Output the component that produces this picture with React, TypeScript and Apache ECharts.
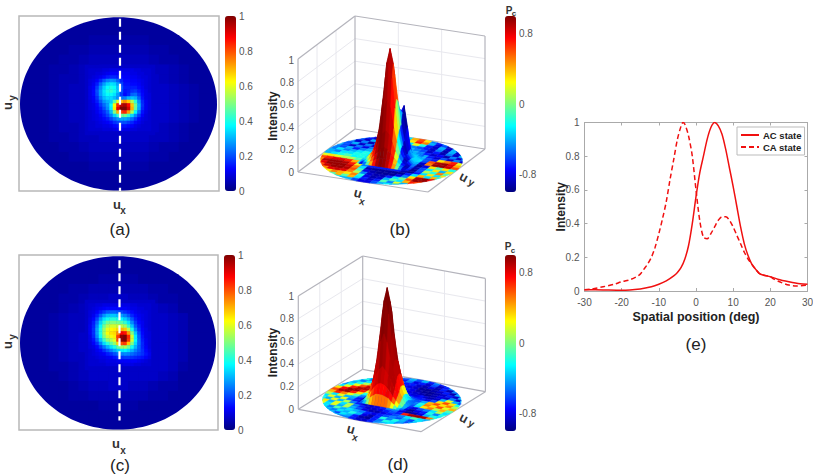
import React, { useEffect, useRef } from "react";
import * as echarts from "echarts";

const FONT = "'Liberation Sans', Arial, sans-serif";
const JET = ["#00007f", "#0000ff", "#0080ff", "#00ffff", "#80ff80", "#ffff00", "#ff8000", "#ff0000", "#7f0000"];

// Panel (e): intensity profiles
const positionAC = [-30, -25, -20, -15, -12, -10, -8, -6, -5, -4, -3, -2, -1, 0, 1, 2, 3, 4, 5, 6, 7, 8, 9, 10, 11, 12, 13, 14, 15, 16, 17, 18, 20, 22, 25, 28, 30];
const valuesAC = [0.008, 0.006, 0.004, 0.012, 0.025, 0.04, 0.06, 0.09, 0.11, 0.14, 0.19, 0.27, 0.4, 0.56, 0.7, 0.8, 0.9, 0.97, 1, 0.98, 0.93, 0.84, 0.73, 0.62, 0.5, 0.38, 0.28, 0.21, 0.16, 0.13, 0.105, 0.095, 0.085, 0.07, 0.055, 0.043, 0.04];
const positionCA = [-30, -28, -25, -22, -20, -18, -16, -15, -14, -13, -12, -11, -10, -9, -8, -7, -6, -5, -4, -3.5, -3, -2, -1, 0, 1, 2, 3, 4, 5, 6, 7, 8, 9, 10, 11, 12, 13, 14, 15, 16, 17, 18, 20, 21, 23, 25, 27, 30];
const valuesCA = [0.008, 0.012, 0.025, 0.04, 0.055, 0.065, 0.085, 0.1, 0.13, 0.16, 0.2, 0.26, 0.34, 0.43, 0.53, 0.66, 0.78, 0.9, 0.98, 1, 0.99, 0.92, 0.8, 0.6, 0.42, 0.32, 0.31, 0.34, 0.38, 0.42, 0.44, 0.44, 0.42, 0.38, 0.33, 0.28, 0.23, 0.19, 0.16, 0.13, 0.105, 0.095, 0.085, 0.07, 0.05, 0.035, 0.03, 0.035];

const intensityTicks = [0, 0.2, 0.4, 0.6, 0.8, 1];
const pcTicks = [-0.8, 0, 0.8];
const wallLines = [-1 / 3, 1 / 3];

// Panels (a), (c): far-field intensity in percent; 0 = no cell
const glowA = [
  [0,0,0,0,0,0,0,0,0,0,0,0,0,0,0,0,0,0,0,0],
  [0,0,0,0,0,0,3,3,3,3,3,3,3,3,0,0,0,0,0,0],
  [0,0,0,0,3,3,3,4,4,4,4,4,4,3,3,3,0,0,0,0],
  [0,0,0,3,3,4,4,5,5,5,5,5,5,4,4,3,3,0,0,0],
  [0,0,3,3,4,4,5,6,6,6,6,6,6,5,4,4,3,3,0,0],
  [0,0,3,4,4,5,6,6,7,7,7,7,7,6,6,5,4,3,0,0],
  [0,3,3,4,5,5,6,7,7,7,7,7,7,7,6,5,4,3,3,0],
  [0,3,3,4,5,6,6,7,7,7,7,7,7,7,7,6,5,4,3,0],
  [0,3,3,4,5,6,6,7,7,7,7,7,7,7,7,6,5,4,3,0],
  [0,3,3,4,5,6,6,7,7,7,7,7,7,7,7,6,5,4,3,0],
  [0,3,3,4,5,6,6,7,7,7,7,7,7,7,7,6,5,4,3,0],
  [0,3,3,4,5,5,6,7,7,7,7,7,7,7,6,5,4,3,3,0],
  [0,0,3,4,4,5,6,6,7,7,7,7,7,6,6,5,4,3,0,0],
  [0,0,3,3,4,4,5,6,6,6,6,6,6,5,4,4,3,3,0,0],
  [0,0,0,3,3,4,4,5,5,5,5,5,5,4,4,3,3,0,0,0],
  [0,0,0,0,3,3,3,4,4,4,4,4,4,3,3,3,0,0,0,0],
  [0,0,0,0,0,0,3,3,3,3,3,3,3,3,0,0,0,0,0,0],
  [0,0,0,0,0,0,0,0,0,0,0,0,0,0,0,0,0,0,0,0],
];
const coreA = [
  [7,7,7,7,7,7,7,7,7,7,7,7,7,7,7,7,7,7,7,7],
  [7,8,8,8,8,9,9,10,10,10,10,10,10,10,9,9,8,8,8,7],
  [7,8,8,9,9,10,11,12,12,12,11,11,11,10,10,9,9,8,8,7],
  [7,8,9,10,11,13,15,16,16,15,13,12,12,11,11,10,9,9,8,7],
  [7,9,10,12,16,21,25,27,26,22,16,13,13,12,12,11,10,9,8,7],
  [7,9,11,15,22,28,33,35,34,28,19,14,14,13,13,12,10,9,8,7],
  [7,10,12,18,26,33,38,40,38,31,21,15,15,15,15,13,11,9,8,7],
  [7,10,13,20,28,35,40,42,39,32,20,14,15,17,18,15,12,10,8,7],
  [7,10,13,19,28,34,38,38,35,28,18,13,16,22,23,18,13,10,9,7],
  [7,10,12,17,25,31,34,34,31,27,24,25,30,32,30,22,14,10,9,7],
  [7,9,11,15,21,27,30,33,46,60,70,74,68,55,42,27,16,11,9,7],
  [7,9,10,13,18,23,28,38,62,84,94,96,88,68,48,30,17,11,9,7],
  [7,9,10,12,15,20,26,36,64,90,100,100,92,70,47,29,16,11,9,7],
  [7,8,9,11,14,17,22,31,50,70,82,84,72,54,37,24,14,10,8,7],
  [7,8,9,10,12,15,19,25,33,42,47,48,42,34,26,18,12,9,8,7],
  [7,8,9,10,11,13,15,19,23,27,29,29,27,23,18,13,10,9,8,7],
  [7,8,8,9,10,11,12,14,17,19,20,20,18,16,13,11,9,8,8,7],
  [7,8,8,9,9,10,10,11,13,14,14,14,13,12,10,9,8,8,8,7],
  [7,8,8,8,8,9,9,9,10,11,11,10,10,9,9,8,8,8,8,7],
  [7,7,7,7,7,7,7,7,7,7,7,7,7,7,7,7,7,7,7,7],
];
const glowC = [
  [0,0,0,0,0,0,0,0,0,0,0,0,0,0,0,0,0,0,0,0],
  [0,0,0,0,0,0,3,3,3,3,3,3,3,3,0,0,0,0,0,0],
  [0,0,0,0,3,3,3,3,4,4,4,4,3,3,3,3,0,0,0,0],
  [0,0,0,3,3,4,4,5,5,5,5,5,5,4,4,3,3,0,0,0],
  [0,0,3,3,4,4,5,6,6,7,7,6,6,5,4,4,3,3,0,0],
  [0,0,3,3,4,5,6,7,7,7,7,7,7,7,6,5,3,3,0,0],
  [0,3,3,4,5,6,6,7,7,7,7,7,7,7,7,6,5,3,3,0],
  [0,3,3,4,5,6,6,7,7,7,7,7,7,7,7,6,5,3,3,0],
  [0,3,3,4,5,6,7,7,7,7,7,7,7,7,7,6,5,3,3,0],
  [0,3,3,4,5,6,7,7,7,7,7,7,7,7,7,6,5,3,3,0],
  [0,3,3,4,5,6,6,7,7,7,7,7,7,7,7,6,5,3,3,0],
  [0,3,3,4,4,5,6,7,7,7,7,7,7,7,7,6,4,3,3,0],
  [0,0,3,3,4,5,6,7,7,7,7,7,7,7,6,5,3,3,0,0],
  [0,0,3,3,3,4,5,6,6,7,7,6,6,5,4,4,3,3,0,0],
  [0,0,0,3,3,4,4,5,5,5,5,5,5,4,4,3,3,0,0,0],
  [0,0,0,0,3,3,3,3,4,4,4,4,3,3,3,3,0,0,0,0],
  [0,0,0,0,0,0,3,3,3,3,3,3,3,3,0,0,0,0,0,0],
  [0,0,0,0,0,0,0,0,0,0,0,0,0,0,0,0,0,0,0,0],
];
const coreC = [
  [7,7,7,7,7,7,7,7,7,7,7,7,7,7,7,7,7,7,7,7],
  [7,8,8,9,9,10,10,10,10,10,10,10,10,9,9,8,8,8,8,7],
  [7,8,9,10,11,12,13,13,13,13,12,12,11,10,10,9,9,8,8,7],
  [7,9,10,12,15,18,21,22,22,21,19,17,15,13,11,10,9,9,8,7],
  [7,9,11,15,21,27,31,32,32,31,28,25,21,16,13,11,10,9,8,7],
  [7,10,13,19,28,35,39,41,41,40,37,33,28,21,15,12,10,9,8,7],
  [7,10,15,23,33,42,48,50,50,49,46,42,35,26,18,13,11,9,8,7],
  [7,11,16,26,37,48,55,58,58,57,56,53,43,32,21,15,11,9,8,7],
  [7,11,17,28,40,52,60,63,64,66,70,68,55,40,26,17,12,10,8,7],
  [7,11,17,28,40,53,62,65,66,74,88,86,72,50,32,20,13,10,9,7],
  [7,10,16,26,38,50,58,61,64,82,98,100,84,58,36,22,14,10,9,7],
  [7,10,14,22,32,43,51,55,60,80,98,100,82,58,37,23,15,11,9,7],
  [7,9,12,17,25,34,41,46,52,66,80,82,68,50,34,23,16,11,9,7],
  [7,9,10,13,18,24,30,35,40,47,53,54,48,39,30,22,16,12,9,7],
  [7,8,9,11,13,17,21,25,29,33,36,37,34,30,25,21,17,13,10,7],
  [7,8,9,10,11,12,15,17,20,23,25,26,25,23,21,19,17,14,11,7],
  [7,8,8,9,10,10,11,12,14,16,17,18,18,17,16,15,14,12,10,7],
  [7,8,8,8,9,9,10,10,10,11,12,12,12,12,12,11,10,9,8,7],
  [7,8,8,8,8,8,9,9,9,9,9,10,10,10,9,9,8,8,8,7],
  [7,7,7,7,7,7,7,7,7,7,7,7,7,7,7,7,7,7,7,7],
];

// Panels (b), (d): Pc on the disc in percent, rows uy = .95 to -.95, columns ux = -.95 to .95; 0 = no cell
const discB = [
  [0,0,0,0,0,-50,-70,-70,-30,40,60,30,-50,-70,-50,0,0,0,0,0],
  [0,0,0,0,-80,-50,-85,-40,-60,30,70,50,-40,-80,-60,-90,0,0,0,0],
  [0,0,-50,-70,-85,-40,-85,-50,-80,-30,20,-20,-70,-85,-40,-85,-40,-60,0,0],
  [0,0,-60,-85,-40,-85,-50,-85,-70,-60,-50,-60,-70,-85,-50,-90,-40,-85,0,0],
  [0,-50,-85,-50,-90,-50,-85,-60,-60,-50,-40,-50,-60,-85,-70,-90,-50,-85,-40,0],
  [-50,-60,-40,-85,-50,-85,-60,-50,-50,-40,-30,-40,-50,-70,-85,-75,-90,-50,-85,-50],
  [-40,-60,-85,-50,-80,-50,-60,-40,-40,-30,-30,-30,-40,-40,-70,-85,-60,-85,-50,-85],
  [-50,-60,-40,-70,-50,-40,-30,-30,-40,-30,-40,-30,-30,-40,-60,-70,30,50,70,20],
  [-50,-30,-50,-40,-30,-20,-30,-30,-40,-30,-50,-40,-30,-30,-60,60,90,95,80,40],
  [-40,-50,-30,-30,-20,-20,-30,-40,-50,-40,-60,-50,-40,-40,-85,50,95,95,85,60],
  [-40,-30,-20,-10,-25,-20,-30,-30,-50,-50,-60,-60,-50,-50,-95,-80,30,-10,30,-20],
  [20,30,20,10,10,-10,-40,-60,-60,-60,-60,-60,-60,-60,-90,-60,-30,30,-40,30],
  [60,70,80,80,70,40,-30,-70,-60,-60,-60,-60,-60,-70,-95,-60,10,-20,50,-10],
  [50,90,95,95,90,70,20,-50,-70,-70,-70,-70,-70,-90,-95,-70,-30,30,-30,30],
  [40,80,95,95,95,85,50,-30,-90,-95,-95,-95,-95,-95,-70,-30,40,-30,40,-20],
  [0,60,85,95,95,90,60,-10,-80,-90,-95,-95,-95,-80,-50,30,90,95,80,0],
  [0,0,50,80,85,80,50,10,-50,-85,-90,-90,-70,-30,-5,60,95,95,0,0],
  [0,0,20,30,50,40,30,50,-20,-80,-90,-85,-40,-10,-30,40,70,60,0,0],
  [0,0,0,0,-10,40,-10,40,-30,-70,-85,-70,-10,-50,20,-40,0,0,0,0],
  [0,0,0,0,0,-30,-40,-40,-60,-80,-80,-60,-40,-30,-40,0,0,0,0,0],
];
const discD = [
  [0,0,0,0,0,-40,-50,-60,-40,-60,-40,-70,-50,-70,-60,0,0,0,0,0],
  [0,0,0,0,-30,-60,-30,-70,-50,-80,-70,-85,-60,-85,-70,-50,0,0,0,0],
  [0,0,-40,-30,-60,-20,-50,-40,-70,-70,-85,-90,-80,-90,-70,-90,-50,-60,0,0],
  [0,0,-20,-50,-20,-30,-50,-60,-70,-80,-85,-95,-95,-90,-85,-70,-90,-40,0,0],
  [0,-30,-50,-30,20,60,30,-30,-60,-70,-80,-90,-95,-95,-90,-85,-70,-85,-40,0],
  [-30,-40,-20,10,50,75,50,-10,-50,-70,-80,-85,-90,-95,-90,-80,-85,-50,-85,-40],
  [-50,-20,20,60,85,70,30,-20,-50,-60,-70,-70,-80,-85,-90,-85,-40,20,-40,-60],
  [-30,20,70,90,90,50,-5,-40,-60,-60,-60,-60,-60,-70,-80,-60,30,60,30,-20],
  [30,75,95,95,70,20,-30,-60,-70,-60,-60,-50,-50,-60,-40,40,60,30,50,10],
  [60,90,95,70,30,-20,-60,-80,-80,-70,-60,-50,-50,-50,-20,50,30,60,20,40],
  [40,70,50,20,-10,-50,-80,-90,-80,-70,-60,-50,-40,-60,-30,30,50,10,40,-10],
  [10,-30,20,-40,-40,-70,-90,-90,-85,-70,-60,-40,-40,-70,-80,-60,-50,-30,10,-30],
  [-30,20,-40,20,-50,-70,-85,-90,-85,-75,-60,-40,-40,-80,-95,-80,-70,-20,-50,-20],
  [-20,-40,20,-40,10,-50,-70,-85,-85,-80,-70,-50,-50,-80,-95,-90,-80,-40,-20,-30],
  [-30,30,-40,20,-30,10,-50,-70,-85,-85,-80,-70,-60,-70,70,90,95,90,50,-20],
  [0,20,-30,20,-40,10,-40,-60,-80,-90,-90,-80,-70,-60,-50,-30,-10,-30,-40,0],
  [0,0,-30,-50,-10,-40,-30,-40,-50,-70,-80,-70,-60,-50,-60,-40,-60,-30,0,0],
  [0,0,-30,-40,-50,-30,-40,-20,-40,-80,-90,-70,-20,-50,-20,-40,-60,-40,0,0],
  [0,0,0,0,-40,-60,-30,-40,-70,-90,-95,-70,-50,-20,-30,-50,0,0,0,0],
  [0,0,0,0,0,-40,-50,-50,-70,-85,-85,-70,-50,-40,-30,0,0,0,0,0],
];

// Peak surfaces: intensity and Pc (percent) at vertices, rows uy = .35 to -.35, columns ux = -.35 to .35
const peakZB = [
  [1,1,1,1,1,1,1,1,1,1,1,1,1,1,1],
  [1,2,2,2,2,2,2,2,2,2,2,2,2,2,1],
  [1,2,2,2,2,2,3,4,3,3,3,3,2,2,1],
  [1,2,2,3,4,6,7,8,8,10,10,6,3,2,1],
  [1,2,3,5,8,11,15,16,19,25,30,17,6,3,1],
  [1,2,4,8,13,20,27,31,33,42,48,30,10,3,1],
  [1,3,6,11,20,34,51,59,53,46,42,25,10,4,1],
  [1,4,7,15,27,49,75,87,76,53,33,19,8,4,1],
  [1,4,8,16,30,56,87,100,87,56,30,16,8,4,1],
  [1,4,7,15,27,49,75,87,75,49,27,15,7,4,1],
  [1,3,6,11,20,32,49,56,49,32,20,11,6,3,1],
  [1,2,4,8,13,20,27,30,27,20,13,8,4,2,1],
  [1,2,3,5,8,11,15,16,15,11,8,5,3,2,1],
  [1,2,2,3,4,6,7,8,7,6,4,3,2,2,1],
  [1,1,1,1,1,1,1,1,1,1,1,1,1,1,1],
];
const peakPB = [
  [-40,-50,-40,-30,-40,-40,-30,-30,-40,-50,-40,-40,-50,-60,-60],
  [-40,-40,-30,-30,-30,-30,-40,-40,-50,-60,-50,-40,-40,-50,-60],
  [-50,-30,-30,-30,-20,-20,-20,-30,-60,-90,-60,-40,-30,-40,-50],
  [-30,-20,10,60,85,90,85,20,-40,-90,-90,-50,-30,-30,-40],
  [-20,40,85,95,100,100,95,35,-40,-85,-95,-90,-40,-25,-40],
  [10,60,90,95,100,100,95,85,-20,-80,-95,-95,-60,-25,-40],
  [30,70,90,95,100,100,95,90,85,-30,-95,-95,-60,-30,-35],
  [20,60,85,95,100,100,95,90,90,35,-70,-95,-80,-45,-30],
  [-10,40,75,90,100,100,95,90,90,40,-30,-85,-95,-60,-35],
  [-30,30,65,90,100,100,95,90,85,45,-10,-60,-95,-75,-50],
  [-40,0,50,80,95,100,95,90,85,80,15,-40,-90,-90,-70],
  [-60,-20,30,70,90,100,100,95,85,85,40,-25,-60,-95,-85],
  [-70,-40,10,50,80,95,100,95,90,85,60,0,-50,-85,-95],
  [-80,-60,-20,30,70,90,100,100,95,85,65,25,-30,-70,-95],
  [-90,-80,-50,10,50,80,95,95,90,80,60,30,-30,-70,-95],
];
const peakZD = [
  [1,1,1,1,1,1,1,1,1,1,1,1,1,1,1],
  [1,1,1,1,1,2,2,2,1,1,1,1,1,1,1],
  [1,1,1,1,2,3,3,3,2,1,1,1,1,1,1],
  [1,1,2,4,6,8,8,8,6,4,2,1,1,1,1],
  [1,2,5,9,13,17,19,17,13,9,6,3,1,1,1],
  [1,4,9,16,24,30,33,30,24,18,11,6,3,1,1],
  [1,5,13,25,38,54,61,54,38,28,18,10,5,2,1],
  [1,7,18,33,54,78,88,78,54,36,24,15,8,3,1],
  [1,7,20,36,61,88,100,88,61,38,26,16,9,4,1],
  [1,7,18,33,54,78,88,78,56,38,25,16,9,4,1],
  [1,6,14,25,38,54,61,54,40,30,20,12,7,3,1],
  [1,4,10,18,25,30,33,30,26,21,14,9,5,2,1],
  [1,3,6,11,15,18,19,18,16,13,9,6,3,1,1],
  [1,2,3,6,8,10,10,10,9,8,5,3,1,1,1],
  [1,1,1,1,1,1,1,1,1,1,1,1,1,1,1],
];
const peakPD = [
  [-80,-85,-85,-80,-70,-60,-60,-60,-70,-80,-85,-85,-80,-70,-70],
  [-80,-85,-80,-70,-60,-50,-50,-50,-60,-70,-80,-85,-85,-75,-70],
  [-70,-70,-60,-50,-30,-20,-20,-20,-30,-50,-60,-75,-80,-75,-70],
  [-60,-50,-30,10,40,55,60,55,40,10,-30,-50,-60,-70,-70],
  [-50,-30,20,60,80,85,88,85,80,60,20,-30,-50,-60,-60],
  [-40,10,60,85,92,95,98,95,92,85,60,10,-40,-55,-60],
  [-30,30,80,92,98,100,100,100,98,92,80,30,-30,-55,-60],
  [-10,50,85,95,100,100,100,100,100,95,85,50,-10,-50,-60],
  [-10,55,88,95,100,100,100,100,95,90,88,55,-10,-50,-55],
  [-10,50,85,92,95,100,100,100,95,90,85,60,0,-45,-55],
  [-20,30,80,90,85,95,100,90,85,95,85,65,20,-40,-50],
  [-30,10,65,85,85,90,95,85,85,95,85,70,30,-30,-50],
  [-50,-20,30,70,80,85,85,80,85,90,80,60,20,-30,-50],
  [-60,-40,-10,40,60,65,70,65,70,70,55,30,-10,-40,-55],
  [-70,-60,-40,10,35,35,40,40,40,35,20,-10,-40,-60,-70],
];

function buildOption() {
  const grid: any[] = [], xAxis: any[] = [], yAxis: any[] = [], series: any[] = [], visualMap: any[] = [], elements: any[] = [];
  const addGrid = (left: number, top: number, width: number, height: number, extra: any = {}) => {
    grid.push({ left, top, width, height, outerBoundsMode: "none", ...extra });
    return grid.length - 1;
  };
  const hiddenValue = (arr: any[], gridIndex: number, min: number, max: number) => {
    arr.push({ type: "value", gridIndex, min, max, show: false });
    return arr.length - 1;
  };
  const tickLabel = { color: "#555", fontSize: 10, fontFamily: FONT };

  const text = (x: number, y: number, t: string, font: string, fill = "#333", rotation = 0) => ({
    type: "text", x, y, rotation, silent: true, z: 50,
    style: { text: t, font, fill, textAlign: "center", textVerticalAlign: "middle" },
  });
  const subscript = (x: number, y: number, a: string, b: string, sx: number, sy: number, rotation: number, s1 = 13, s2 = 10) => ({
    type: "group", x, y, rotation, silent: true, z: 50,
    children: [
      text(0, 0, a, `bold ${s1}px ${FONT}`),
      text(sx, sy, b, `bold ${s2}px ${FONT}`),
    ],
  });

  // Flat intensity map: disc, coarse glow, fine core, dashed cut, colour bar
  const heatPanel = (left: number, top: number, w: number, h: number, winLeft: number, winTop: number, glow: number[][], core: number[][], cut: number[][], barLeft: number) => {
    const g0 = addGrid(left, top, w, h, { show: true, borderColor: "#b8b8b8", borderWidth: 1.5, backgroundColor: "#fff" });
    const x0 = hiddenValue(xAxis, g0, -1, 1), y0 = hiddenValue(yAxis, g0, -1, 1);
    const ids: number[] = [];
    series.push({
      type: "custom", xAxisIndex: x0, yAxisIndex: y0, silent: true, z: 2, clip: false,
      data: [[-0.005, -0.005, 3, 0.985, 0.99]],
      renderItem: (_: any, api: any) => {
        const c = api.coord([api.value(0), api.value(1)]);
        const s = api.size([api.value(3), api.value(4)]);
        return { type: "ellipse", shape: { cx: c[0], cy: c[1], rx: s[0], ry: s[1] }, style: { fill: api.visual("color") } };
      },
    });
    ids.push(series.length - 1);
    const addCells = (m: number[][], g: number, z: number) => {
      xAxis.push({ type: "category", gridIndex: g, show: false, data: m[0].map((_, i) => i) });
      yAxis.push({ type: "category", gridIndex: g, show: false, inverse: true, data: m.map((_, i) => i) });
      const data: number[][] = [];
      m.forEach((row, r) => row.forEach((v, c) => { if (v > 0) data.push([c, r, v]); }));
      series.push({ type: "heatmap", xAxisIndex: xAxis.length - 1, yAxisIndex: yAxis.length - 1, data, silent: true, z, progressive: 0, itemStyle: { borderWidth: 0 } });
      ids.push(series.length - 1);
    };
    addCells(glow, addGrid(left, top, w, h), 3);
    addCells(core, addGrid(winLeft, winTop, 70, 70), 4);
    series.push({
      type: "line", xAxisIndex: x0, yAxisIndex: y0, data: cut, symbol: "none", silent: true, z: 6,
      lineStyle: { color: "#fff", width: 2.2, type: [8, 5] },
    });
    visualMap.push({
      type: "continuous", min: 0, max: 100, dimension: 2, seriesIndex: ids, inRange: { color: JET },
      left: barLeft, top, itemWidth: 11, itemHeight: h, padding: 0, calculable: false, hoverLink: false, realtime: false,
    });
    const gb = addGrid(barLeft, top, 11, h);
    hiddenValue(xAxis, gb, 0, 1);
    yAxis.push({
      type: "value", gridIndex: gb, min: 0, max: 1, interval: 0.2, position: "right",
      axisLine: { show: false }, axisTick: { show: false }, splitLine: { show: false }, axisLabel: { ...tickLabel, margin: 3 },
    });
  };

  heatPanel(19, 16, 200, 175, 85, 65, glowA, coreA, [[0.01, 0.97], [0.01, -1]], 225);
  heatPanel(19, 255, 199, 175, 85, 300, glowC, coreC, [[0.01, 0.94], [0.01, -0.89]], 224);

  // 3-D panels
  const surfacePanel = (left: number, top: number, w: number, h: number, view: any, disc: number[][], peakZ: number[][], peakP: number[][], barTop: number, barH: number, zTop: number, zH: number) => {
    const project = (ux: number, uy: number, z: number) => [
      view.o[0] + ((ux + 1) / 2) * view.ax[0] + ((uy + 1) / 2) * view.ay[0],
      view.o[1] + ((ux + 1) / 2) * view.ax[1] + ((uy + 1) / 2) * view.ay[1] + z * view.z,
    ];
    const g = addGrid(left, top, w, h);
    const xi = hiddenValue(xAxis, g, 0, w), yi = hiddenValue(yAxis, g, 0, h);

    const edges: number[][] = [];
    intensityTicks.slice(1, -1).forEach((z) => {
      edges.push([-1, -1, z, -1, 1, z, 0]);
      edges.push([-1, 1, z, 1, 1, z, 0]);
    });
    wallLines.forEach((t) => {
      edges.push([-1, t, 0, -1, t, 1, 0]);
      edges.push([t, 1, 0, t, 1, 1, 0]);
      edges.push([t, -1, 0, t, 1, 0, 0]);
      edges.push([-1, t, 0, 1, t, 0, 0]);
    });
    [
      [-1, -1, 0, 1, -1, 0], [1, -1, 0, 1, 1, 0], [1, 1, 0, -1, 1, 0], [-1, 1, 0, -1, -1, 0],
      [-1, -1, 0, -1, -1, 1], [-1, 1, 0, -1, 1, 1], [1, 1, 0, 1, 1, 1],
      [-1, -1, 1, -1, 1, 1], [-1, 1, 1, 1, 1, 1],
    ].forEach((e) => edges.push([...e, 1]));
    series.push({
      type: "custom", xAxisIndex: xi, yAxisIndex: yi, silent: true, z: 2, clip: false, data: edges,
      renderItem: (_: any, api: any) => {
        const a = api.coord(project(api.value(0), api.value(1), api.value(2)));
        const b = api.coord(project(api.value(3), api.value(4), api.value(5)));
        const major = api.value(6) === 1;
        return { type: "line", shape: { x1: a[0], y1: a[1], x2: b[0], y2: b[1] }, style: { stroke: major ? "#b4b4bc" : "#e8e8ee", lineWidth: major ? 1.2 : 1 } };
      },
    });

    const quads: number[][] = [];
    disc.forEach((row, r) => row.forEach((p, c) => {
      if (p === 0) return;
      const ux = -0.95 + 0.1 * c, uy = 0.95 - 0.1 * r;
      const q = [[ux - 0.05, uy - 0.05], [ux + 0.05, uy - 0.05], [ux + 0.05, uy + 0.05], [ux - 0.05, uy + 0.05]].map(([a, b]) => {
        const rad = Math.hypot(a, b);
        return rad > 1 ? [a / rad, b / rad] : [a, b];
      });
      quads.push([q[0][0], q[0][1], 0, q[1][0], q[1][1], 0, q[2][0], q[2][1], 0, q[3][0], q[3][1], 0, p]);
    }));
    const peak: number[][] = [];
    for (let j = 0; j < peakZ.length - 1; j++) {
      for (let i = 0; i < peakZ[0].length - 1; i++) {
        const u0 = -0.35 + 0.05 * i, u1 = u0 + 0.05, v0 = 0.35 - 0.05 * j, v1 = v0 - 0.05;
        const p = (peakP[j][i] + peakP[j][i + 1] + peakP[j + 1][i] + peakP[j + 1][i + 1]) / 4;
        peak.push([u0, v0, peakZ[j][i] / 100, u1, v0, peakZ[j][i + 1] / 100, u1, v1, peakZ[j + 1][i + 1] / 100, u0, v1, peakZ[j + 1][i] / 100, p]);
      }
    }
    const floorDepth = (q: number[]) => project((q[0] + q[6]) / 2, (q[1] + q[7]) / 2, 0)[1];
    peak.sort((a, b) => floorDepth(b) - floorDepth(a));
    series.push({
      type: "custom", xAxisIndex: xi, yAxisIndex: yi, silent: true, z: 3, clip: false, data: [...quads, ...peak],
      renderItem: (_: any, api: any) => {
        const pts = [0, 3, 6, 9].map((k) => api.coord(project(api.value(k), api.value(k + 1), api.value(k + 2))));
        const color = api.visual("color");
        return { type: "polygon", shape: { points: pts }, style: { fill: color, stroke: color, lineWidth: 0.5 } };
      },
    });
    visualMap.push({
      type: "continuous", min: -100, max: 100, dimension: 12, seriesIndex: series.length - 1, inRange: { color: JET },
      left: 505, top: barTop, itemWidth: 11, itemHeight: barH, padding: 0, calculable: false, hoverLink: false, realtime: false,
    });
    const gb = addGrid(505, barTop, 11, barH);
    hiddenValue(xAxis, gb, 0, 1);
    yAxis.push({
      type: "value", gridIndex: gb, min: -1, max: 1, position: "right",
      axisLine: { show: false }, axisTick: { show: false }, splitLine: { show: false },
      axisLabel: { ...tickLabel, margin: 3, customValues: pcTicks },
    });
    const gz = addGrid(298, zTop, 1, zH);
    hiddenValue(xAxis, gz, 0, 1);
    yAxis.push({
      type: "value", gridIndex: gz, min: 0, max: 1, interval: 0.2,
      axisLine: { show: false }, axisTick: { show: false }, splitLine: { show: false },
      axisLabel: { ...tickLabel, margin: 4 },
      name: "Intensity", nameLocation: "middle", nameGap: 19, nameRotate: 90, nameMoveOverlap: false,
      nameTextStyle: { fontFamily: FONT, fontSize: 12, fontWeight: "bold", color: "#222" },
    });
  };

  surfacePanel(298, 16, 187, 176, { o: [0, 20], ax: [130, -20], ay: [57, 43], z: 113 }, discB, peakZB, peakPB, 16, 176, 60, 112);
  surfacePanel(298, 255, 188, 177, { o: [0.3, 22.7], ax: [122.7, -22.4], ay: [64.4, 40], z: 113.3 }, discD, peakZD, peakPD, 255, 176, 296, 113);

  // Panel (e)
  const ge = addGrid(584.5, 122.5, 223, 168.5);
  const axisGrey = { onZero: false, lineStyle: { color: "#aaa", width: 1 } };
  const tickGrey = { inside: true, length: 3, lineStyle: { color: "#aaa", width: 1 } };
  xAxis.push({
    type: "value", gridIndex: ge, min: -30, max: 30, interval: 10,
    axisLine: axisGrey, axisTick: tickGrey, splitLine: { show: false }, axisLabel: { ...tickLabel, margin: 6 },
    name: "Spatial position (deg)", nameLocation: "middle", nameGap: 19, nameMoveOverlap: false,
    nameTextStyle: { fontFamily: FONT, fontSize: 12.5, fontWeight: "bold", color: "#222" },
  });
  const xe = xAxis.length - 1;
  yAxis.push({
    type: "value", gridIndex: ge, min: 0, max: 1, interval: 0.2,
    axisLine: axisGrey, axisTick: tickGrey, splitLine: { show: false }, axisLabel: { ...tickLabel, margin: 5 },
    name: "Intensity", nameLocation: "middle", nameGap: 18, nameRotate: 90, nameMoveOverlap: false,
    nameTextStyle: { fontFamily: FONT, fontSize: 12, fontWeight: "bold", color: "#222" },
  });
  const ye = yAxis.length - 1;
  xAxis.push({ type: "value", gridIndex: ge, position: "top", min: -30, max: 30, interval: 10, axisLine: axisGrey, axisTick: tickGrey, axisLabel: { show: false }, splitLine: { show: false } });
  yAxis.push({ type: "value", gridIndex: ge, position: "right", min: 0, max: 1, interval: 0.2, axisLine: axisGrey, axisTick: tickGrey, axisLabel: { show: false }, splitLine: { show: false } });
  series.push({
    name: "AC state", type: "line", xAxisIndex: xe, yAxisIndex: ye, symbol: "none", smooth: 0.3, silent: true, z: 4,
    data: positionAC.map((x, i) => [x, valuesAC[i]]), lineStyle: { color: "#f01010", width: 1.5 }, itemStyle: { color: "#f01010" },
  });
  series.push({
    name: "CA state", type: "line", xAxisIndex: xe, yAxisIndex: ye, symbol: "none", smooth: 0.3, silent: true, z: 4,
    data: positionCA.map((x, i) => [x, valuesCA[i]]), lineStyle: { color: "#f01010", width: 1.5, type: [5, 3] }, itemStyle: { color: "#f01010" },
  });

  // Texts
  const panelFont = `17px ${FONT}`;
  elements.push(text(120, 229, "(a)", panelFont, "#222"));
  elements.push(text(400, 229, "(b)", panelFont, "#222"));
  elements.push(text(120, 465, "(c)", panelFont, "#222"));
  elements.push(text(398, 464, "(d)", panelFont, "#222"));
  elements.push(text(696, 344, "(e)", panelFont, "#222"));
  elements.push(subscript(117, 204, "u", "x", 6, 6, 0));
  elements.push(subscript(7, 106, "u", "y", 8, 5, Math.PI / 2));
  elements.push(subscript(116, 443, "u", "x", 7, 7, 0));
  elements.push(subscript(7, 345, "u", "y", 8, 5, Math.PI / 2));
  elements.push(subscript(358, 193, "u", "x", 6, 7, -0.26));
  elements.push(subscript(464, 177, "u", "y", 9, 1, -0.5));
  elements.push(subscript(351, 429, "u", "x", 6, 7, -0.26));
  elements.push(subscript(464, 418, "u", "y", 9, 1, -0.5));
  elements.push(subscript(509, 10, "P", "c", 5, 3, 0, 10, 8));
  elements.push(subscript(508, 246, "P", "c", 5, 4, 0, 10, 8));

  return {
    animation: false,
    backgroundColor: "#fff",
    textStyle: { fontFamily: FONT },
    grid, xAxis, yAxis, series, visualMap,
    legend: {
      data: [{ name: "AC state" }, { name: "CA state" }],
      orient: "vertical", left: 737, top: 127, padding: [3, 3, 3, 3], itemGap: 2, itemWidth: 18, itemHeight: 10,
      borderColor: "#bbb", borderWidth: 1, backgroundColor: "#fff", selectedMode: false, z: 10,
      itemStyle: { opacity: 0 },
      textStyle: { fontFamily: FONT, fontSize: 9.5, fontWeight: "bold", color: "#222", padding: [0, 0, 0, -1] },
    },
    graphic: { elements },
  };
}

export default function App() {
  const ref = useRef<HTMLDivElement>(null);
  useEffect(() => {
    const chart = echarts.init(ref.current!, undefined, { renderer: "svg", width: 813, height: 475 });
    chart.setOption(buildOption() as any);
    return () => chart.dispose();
  }, []);
  return <div ref={ref} style={{ position: "fixed", left: 0, top: 0, width: 813, height: 475 }} />;
}
